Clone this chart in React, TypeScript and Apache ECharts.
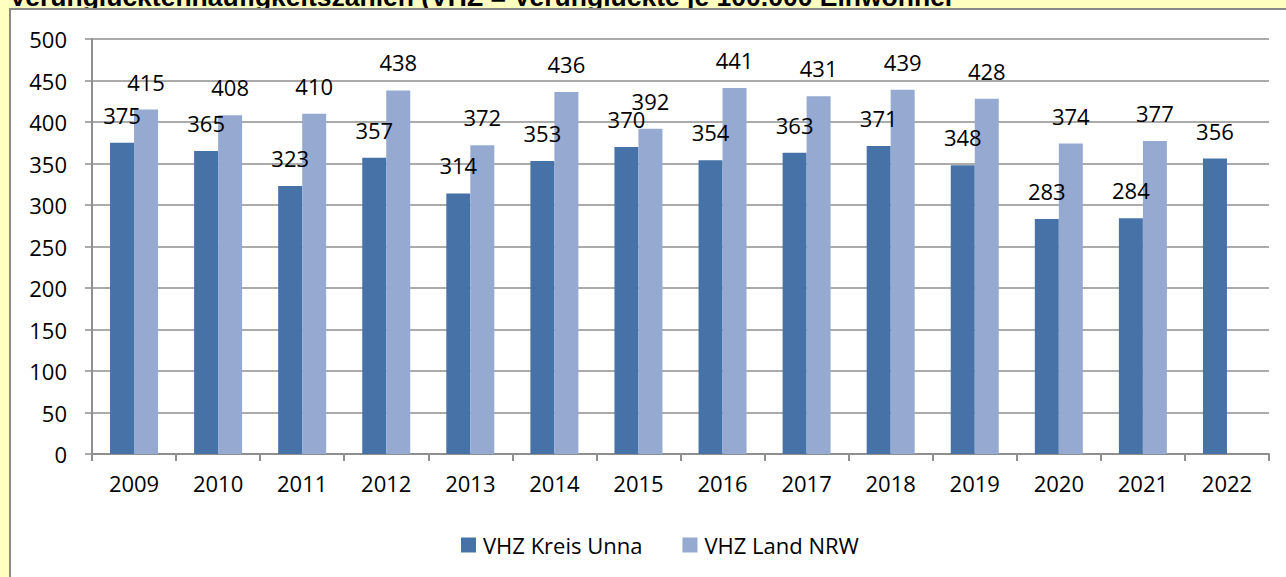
import React, { useEffect, useRef } from "react";
import * as echarts from "echarts";

const years = ["2009", "2010", "2011", "2012", "2013", "2014", "2015", "2016", "2017", "2018", "2019", "2020", "2021", "2022"];
const vhzUnna = [375, 365, 323, 357, 314, 353, 370, 354, 363, 371, 348, 283, 284, 356];
const vhzNRW = [415, 408, 410, 438, 372, 436, 392, 441, 431, 439, 428, 374, 377, null];
const seriesNames = ["VHZ Kreis Unna", "VHZ Land NRW"];
const titleText = "Verunglücktenhäufigkeitszahlen (VHZ = Verunglückte je 100.000 Einwohner";

const FONT = "'Open Sans', sans-serif";
const GRAY = "#8f8f8f";

export default function App() {
  const ref = useRef<HTMLDivElement>(null);
  useEffect(() => {
    if (!ref.current) return;
    const chart = echarts.init(ref.current, null, { renderer: "svg" });
    const label = {
      show: true,
      position: "top",
      distance: 17,
      fontSize: 22,
      fontFamily: FONT,
      color: "#000",
    };
    chart.setOption({
      animation: false,
      backgroundColor: "#FFFFC0",
      graphic: [
        {
          type: "rect",
          z: -10,
          silent: true,
          shape: { x: 10, y: 9, width: 1300, height: 600 },
          style: { fill: "#ffffff", stroke: "#8a8a8a", lineWidth: 2 },
        },
        {
          type: "text",
          z: -20,
          left: 9,
          top: -17,
          style: {
            text: titleText,
            font: "bold 26.5px 'Liberation Sans', Arial, sans-serif",
            fill: "#000",
          },
        },
      ],
      grid: { left: 92, right: 17, top: 39, bottom: 123, containLabel: false },
      legend: {
        left: 456,
        top: 528,
        itemWidth: 15,
        itemHeight: 15,
        itemGap: 40,
        icon: "rect",
        textStyle: { fontSize: 22, fontFamily: FONT, color: "#000", lineHeight: 24, padding: [0, 0, 0, 2] },
        data: seriesNames,
      },
      xAxis: {
        type: "category",
        data: years,
        axisLine: { show: true, lineStyle: { color: GRAY, width: 2 } },
        axisTick: { show: true, alignWithLabel: false, length: 7, lineStyle: { color: GRAY, width: 2 } },
        axisLabel: { fontSize: 22, fontFamily: FONT, color: "#000", margin: 18 },
      },
      yAxis: {
        type: "value",
        min: 0,
        max: 500,
        interval: 50,
        axisLine: { show: true, lineStyle: { color: GRAY, width: 2 } },
        axisTick: { show: true, length: 7, lineStyle: { color: GRAY, width: 1.5 } },
        splitLine: { show: true, lineStyle: { color: GRAY, width: 1.5 } },
        axisLabel: { fontSize: 22, fontFamily: FONT, color: "#000", margin: 25 },
      },
      series: [
        {
          name: seriesNames[0],
          type: "bar",
          data: vhzUnna,
          barWidth: 24,
          barGap: "0%",
          itemStyle: { color: "#4672A8" },
          label,
        },
        {
          name: seriesNames[1],
          type: "bar",
          data: vhzNRW,
          barWidth: 24,
          barGap: "0%",
          itemStyle: { color: "#95A9D1" },
          label,
        },
      ],
    });
    return () => chart.dispose();
  }, []);
  return (
    <div
      ref={ref}
      style={{ position: "fixed", left: 0, top: 0, width: 1286, height: 577 }}
    />
  );
}
